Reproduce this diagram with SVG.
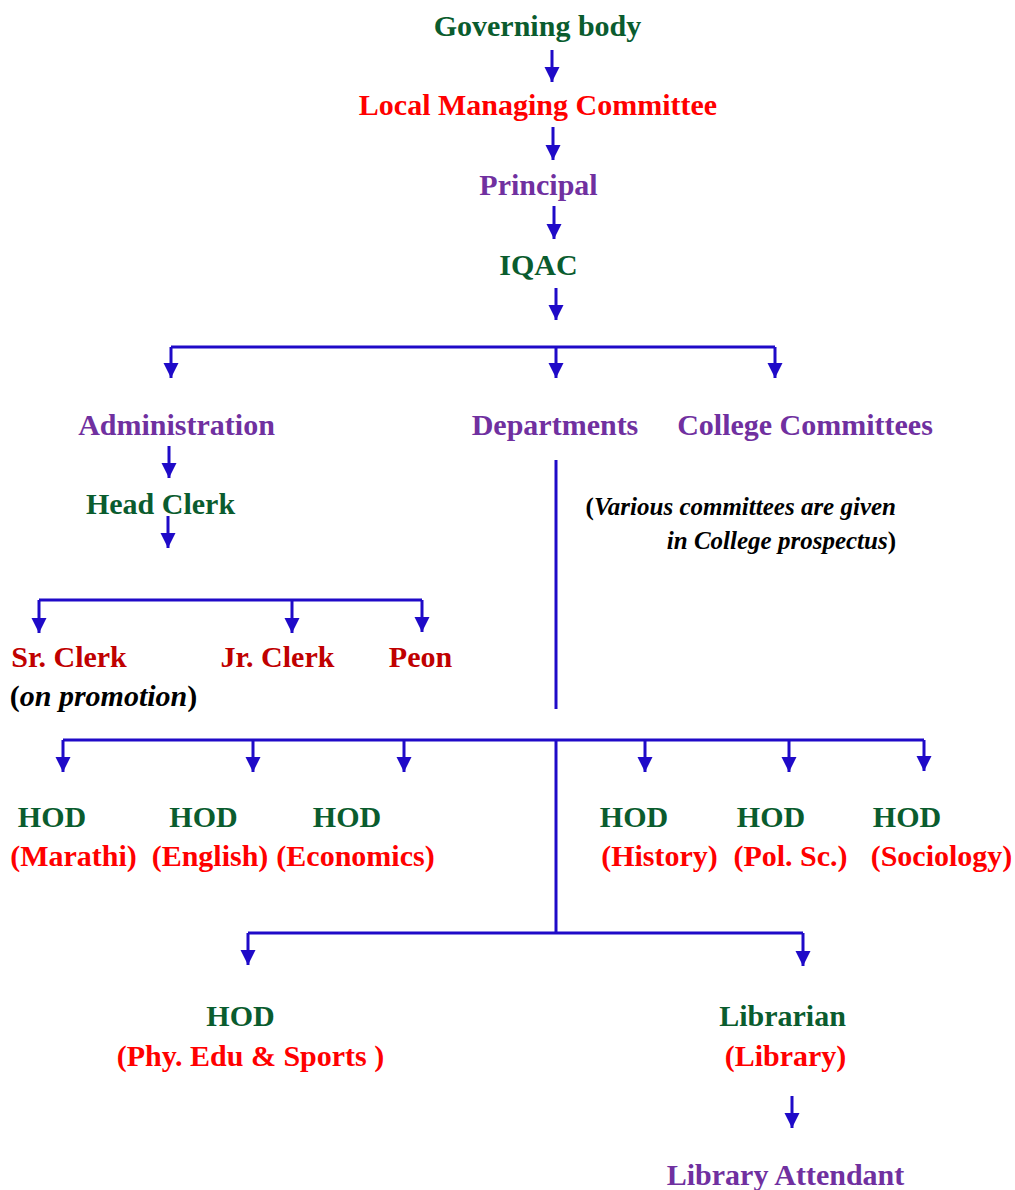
<svg xmlns="http://www.w3.org/2000/svg" width="1015" height="1190" viewBox="0 0 1015 1190">
<defs>
<marker id="ah" markerUnits="userSpaceOnUse" markerWidth="16" markerHeight="16" refX="15" refY="7.5" orient="auto">
<path d="M0,0 L15,7.5 L0,15 z" fill="#1f0ac8"/>
</marker>
<style>
text{font-family:'Liberation Serif','Tinos','Times New Roman','Nimbus Roman','DejaVu Serif',serif;font-weight:700;font-size:30px;text-anchor:middle}
.g{fill:#0a5c2e}.r{fill:#ff0000}.p{fill:#7030a0}.dr{fill:#c00000}.k{fill:#000}
.it{font-style:italic}
.note{font-size:25px;fill:#000;text-anchor:end}
.c path{stroke:#1f0ac8;stroke-width:3;fill:none}
.c .a{marker-end:url(#ah)}
</style>
</defs>
<rect width="1015" height="1190" fill="#fff"/>
<g class="c" id="connectors">
<path class="a" d="M552,50 V82"/>
<path class="a" d="M553,127 V160"/>
<path class="a" d="M554,206 V239"/>
<path class="a" d="M556,288 V320"/>
<path d="M171,347 H775"/>
<path class="a" d="M171,347 V378"/>
<path class="a" d="M556,347 V378"/>
<path class="a" d="M775,347 V378"/>
<path class="a" d="M169,446 V478"/>
<path class="a" d="M168,516 V548"/>
<path d="M39,600 H422"/>
<path class="a" d="M39,600 V633"/>
<path class="a" d="M292,600 V633"/>
<path class="a" d="M422,600 V632"/>
<path d="M556,460 V709"/>
<path d="M63,740 H924"/>
<path class="a" d="M63,740 V772"/>
<path class="a" d="M253,740 V772"/>
<path class="a" d="M404,740 V772"/>
<path class="a" d="M645,740 V772"/>
<path class="a" d="M789,740 V772"/>
<path class="a" d="M924,740 V771"/>
<path d="M556,740 V933"/>
<path d="M248,933 H803"/>
<path class="a" d="M248,933 V965"/>
<path class="a" d="M803,933 V966"/>
<path class="a" d="M792,1096 V1128"/>
</g>
<g id="governing"><text class="g" x="537.5" y="36">Governing body</text></g>
<g id="lmc"><text class="r" x="538" y="115">Local Managing Committee</text></g>
<g id="principal"><text class="p" x="538.5" y="195">Principal</text></g>
<g id="iqac"><text class="g" x="538.5" y="275">IQAC</text></g>
<g id="administration"><text class="p" x="176.5" y="435">Administration</text></g>
<g id="departments"><text class="p" x="555" y="435">Departments</text></g>
<g id="committees"><text class="p" x="805" y="435">College Committees</text></g>
<g id="note">
<text class="note" x="896" y="515">(<tspan class="it">Various committees are given</tspan></text>
<text class="note" x="896" y="549"><tspan class="it">in College prospectus</tspan>)</text>
</g>
<g id="headclerk"><text class="g" x="160.5" y="514">Head Clerk</text></g>
<g id="srclerk">
<text class="dr" x="69" y="667">Sr. Clerk</text>
<text class="k" x="103.5" y="706">(<tspan class="it">on promotion</tspan>)</text>
</g>
<g id="jrclerk"><text class="dr" x="277.5" y="667">Jr. Clerk</text></g>
<g id="peon"><text class="dr" x="420.5" y="667">Peon</text></g>
<g id="hod-marathi"><text class="g" x="52" y="827">HOD</text><text class="r" x="73.5" y="866">(Marathi)</text></g>
<g id="hod-english"><text class="g" x="203.5" y="827">HOD</text><text class="r" x="210" y="866">(English)</text></g>
<g id="hod-economics"><text class="g" x="347" y="827">HOD</text><text class="r" x="355.5" y="866">(Economics)</text></g>
<g id="hod-history"><text class="g" x="634" y="827">HOD</text><text class="r" x="659.5" y="866">(History)</text></g>
<g id="hod-polsc"><text class="g" x="771" y="827">HOD</text><text class="r" x="790.5" y="866">(Pol. Sc.)</text></g>
<g id="hod-sociology"><text class="g" x="907" y="827">HOD</text><text class="r" x="941.5" y="866">(Sociology)</text></g>
<g id="hod-phyedu"><text class="g" x="240.5" y="1026">HOD</text><text class="r" x="250.5" y="1066">(Phy. Edu &amp; Sports )</text></g>
<g id="librarian"><text class="g" x="782.5" y="1026">Librarian</text><text class="r" x="785.5" y="1066">(Library)</text></g>
<g id="attendant"><text class="p" x="785.5" y="1185">Library Attendant</text></g>
</svg>
